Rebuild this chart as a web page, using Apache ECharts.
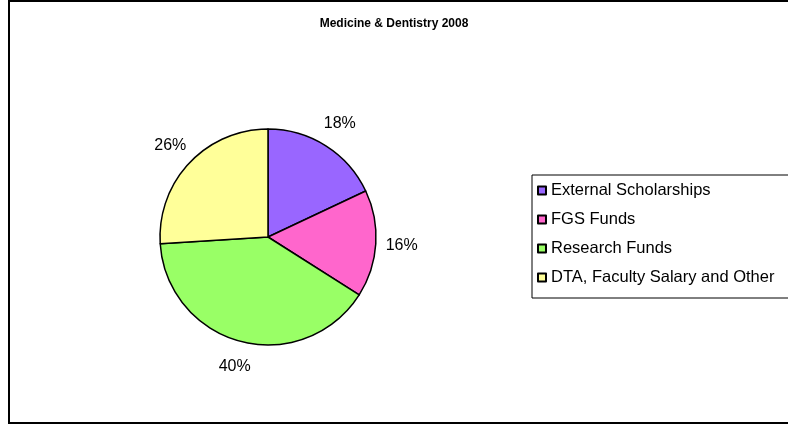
<!DOCTYPE html>
<html>
<head>
<meta charset="utf-8">
<script src="https://cdn.jsdelivr.net/npm/echarts@6/dist/echarts.min.js"></script>
<style>
  html, body { margin: 0; padding: 0; background: #fff; }
  #chart { width: 788px; height: 425px; }
</style>
</head>
<body>
<div id="chart"></div>
<script>
  var categories = ['External Scholarships', 'FGS Funds', 'Research Funds', 'DTA, Faculty Salary and Other'];
  var values = [18, 16, 40, 26];
  var colors = ['#9966FF', '#FF66CC', '#99FF66', '#FFFF99'];

  var pieData = categories.map(function (name, i) {
    return { name: name, value: values[i], itemStyle: { color: colors[i] } };
  });

  var myChart = echarts.init(document.getElementById('chart'));
  var option = {
    animation: false,
    textStyle: { fontFamily: '"Liberation Sans", Arial, sans-serif' },
    graphic: [{
      type: 'rect',
      shape: { x: 9, y: 1, width: 820, height: 422 },
      style: { fill: 'none', stroke: '#000', lineWidth: 2 },
      silent: true
    }],
    title: {
      text: 'Medicine & Dentistry 2008',
      left: 'center',
      top: 13,
      textStyle: { fontSize: 12, fontWeight: 'bold', color: '#000', fontFamily: '"Liberation Sans", Arial, sans-serif' }
    },
    legend: {
      orient: 'vertical',
      left: 532,
      top: 175,
      icon: 'rect',
      itemWidth: 8,
      itemHeight: 8,
      itemGap: 12,
      padding: [7, 100, 12, 5],
      borderColor: '#000',
      borderWidth: 1,
      textStyle: { fontSize: 16.5, color: '#000' },
      data: categories
    },
    series: [{
      // visible slices
      type: 'pie',
      center: [268, 237],
      radius: 108,
      startAngle: 90,
      clockwise: true,
      label: { show: false },
      labelLine: { show: false },
      itemStyle: { borderColor: '#000', borderWidth: 1.5 },
      data: pieData
    }, {
      // invisible ring that carries the percentage labels
      type: 'pie',
      center: [268, 237],
      radius: [108, 154],
      startAngle: 90,
      clockwise: true,
      silent: true,
      legendHoverLink: false,
      itemStyle: { color: 'rgba(0,0,0,0)', borderWidth: 0 },
      label: {
        show: true,
        position: 'inside',
        formatter: '{d}%',
        fontSize: 16,
        color: '#000'
      },
      labelLine: { show: false },
      data: categories.map(function (name, i) { return { name: name + ' ', value: values[i] }; })
    }]
  };
  myChart.setOption(option);
</script>
</body>
</html>
